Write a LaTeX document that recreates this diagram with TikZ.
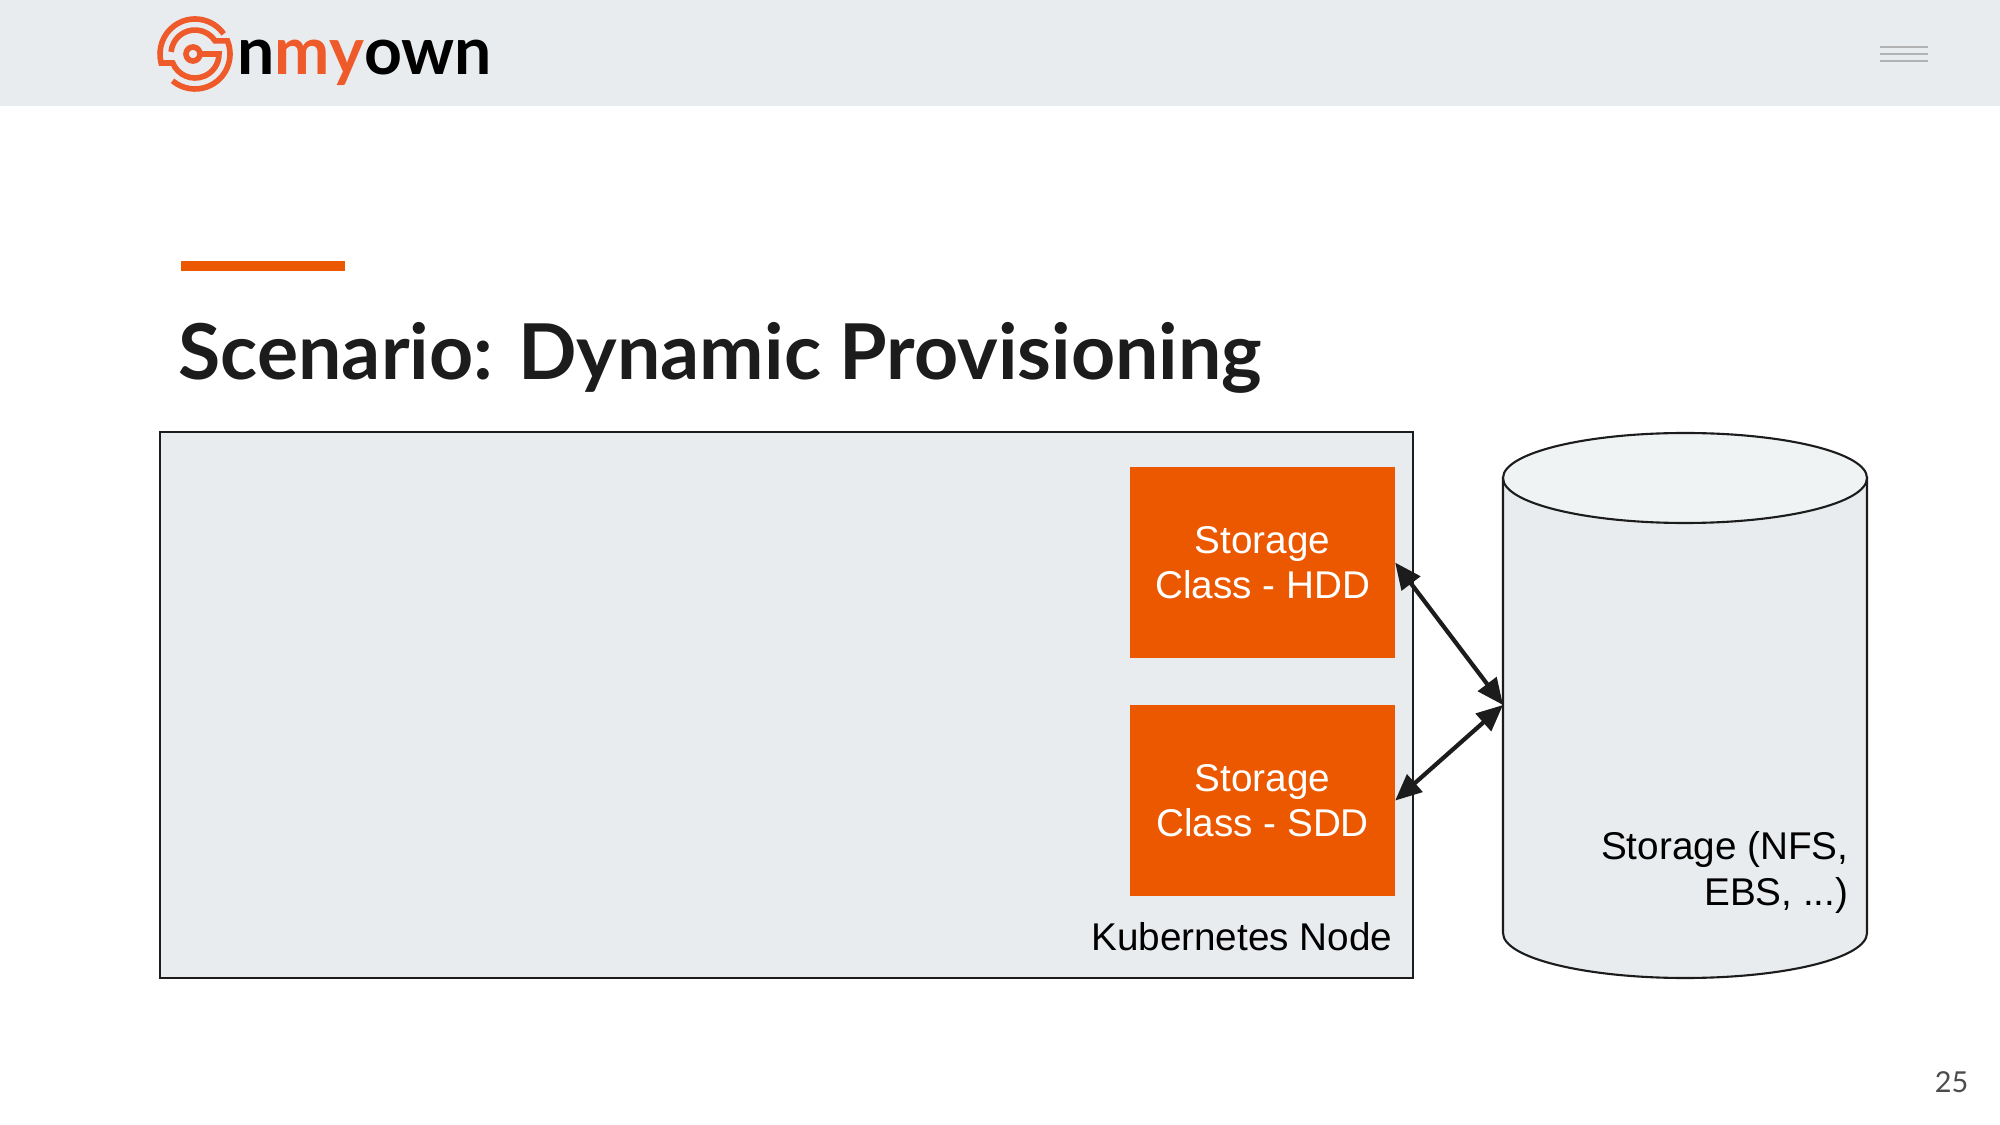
\documentclass[tikz,border=0pt]{standalone}
\usepackage{fontspec}
\setmainfont{Liberation Sans}
\newfontfamily\titlefont{Lato}
\usetikzlibrary{arrows.meta}
\definecolor{slidegray}{HTML}{E9ECEE}
\definecolor{capgray}{HTML}{F0F3F4}
\definecolor{boxorange}{HTML}{EC5800}
\definecolor{logoorange}{HTML}{EE5A2A}
\definecolor{inkblack}{HTML}{1C1C1C}

\begin{document}
\begin{tikzpicture}[
  x=0.01cm, y=-0.01cm,
  classbox/.style={fill=boxorange, text=white, minimum width=2.65cm, minimum height=1.91cm,
    align=center, font=\fontsize{11}{13}\selectfont, inner sep=0pt, outer sep=0pt},
  biarrow/.style={draw=inkblack, line width=1.2pt, {Triangle[length=7.5pt,width=6.5pt]}-{Triangle[length=7.5pt,width=6.5pt]}},
  plainlabel/.style={align=right, font=\fontsize{11}{13}\selectfont, inner sep=0pt},
  logoline/.style={draw=logoorange, line width=1.6pt},
  menuline/.style={draw=black!30, line width=0.5pt},
]
  \useasboundingbox (0,0) rectangle (2000,1125);
  \fill[white] (0,0) rectangle (2000,1125);

  % header
  \fill[slidegray] (0,0) rectangle (2000,106);
  \draw[menuline] (1880,47)--(1928,47);
  \draw[menuline] (1880,54)--(1928,54);
  \draw[menuline] (1880,61)--(1928,61);

  % logo
  \draw[logoline] ([shift={(195,54)}]-35:35) arc[start angle=-35, end angle=-195, radius=35]
    -- ([shift={(195,54)}]158:24) arc[start angle=158, end angle=0, radius=24] -- (200,54);
  \draw[logoline] ([shift={(195,54)}]-175:24) arc[start angle=-175, end angle=-33, radius=24]
    -- ([shift={(195,54)}]-22:35) arc[start angle=-22, end angle=130, radius=35];
  \draw[logoline] (193,54) circle[radius=7];
  \node[anchor=base west, inner sep=0pt, font=\titlefont\bfseries\fontsize{18.8}{19}\selectfont] (logo) at (237,75)
    {n\textcolor{logoorange}{my}own};

  % title
  \fill[boxorange] (181,261) rectangle (345,271);
  \node[anchor=base west, inner sep=0pt, text=inkblack, font=\titlefont\bfseries\fontsize{21.9}{25}\selectfont] (title) at (178,380)
    {Scenario: Dynamic Provisioning};

  % kubernetes node
  \node[draw=inkblack, fill=slidegray, line width=0.6pt, minimum width=12.52cm, minimum height=5.46cm,
    inner sep=0pt, outer sep=0pt, anchor=north west] (k8s) at (160,432) {};
  \node[classbox, anchor=north west] (hdd) at (1130,467) {Storage\\Class - HDD};
  \node[classbox, anchor=north west] (sdd) at (1130,705) {Storage\\Class - SDD};
  \node[plainlabel, anchor=base east] (k8slabel) at (1393,950) {Kubernetes Node};

  % storage
  \coordinate (storage) at (1503,705);
  \draw[draw=inkblack, fill=slidegray, line width=0.6pt] (1503,477) -- (1503,933)
    arc[start angle=180, end angle=0, x radius=182, y radius=45] -- (1867,477);
  \draw[draw=inkblack, fill=capgray, line width=0.6pt] (1685,478) ellipse[x radius=182, y radius=45];
  \node[plainlabel, anchor=north east] (storagelabel) at (1849,831) {Storage (NFS,\\EBS, ...)};

  \draw[biarrow] (hdd.east)--(storage);
  \draw[biarrow] (sdd.east)--(storage);

  % page number
  \node[anchor=base east, inner sep=0pt, text=black!70, font=\titlefont\fontsize{8.2}{10}\selectfont] (pagenum) at (1969,1092) {25};
\end{tikzpicture}
\end{document}
